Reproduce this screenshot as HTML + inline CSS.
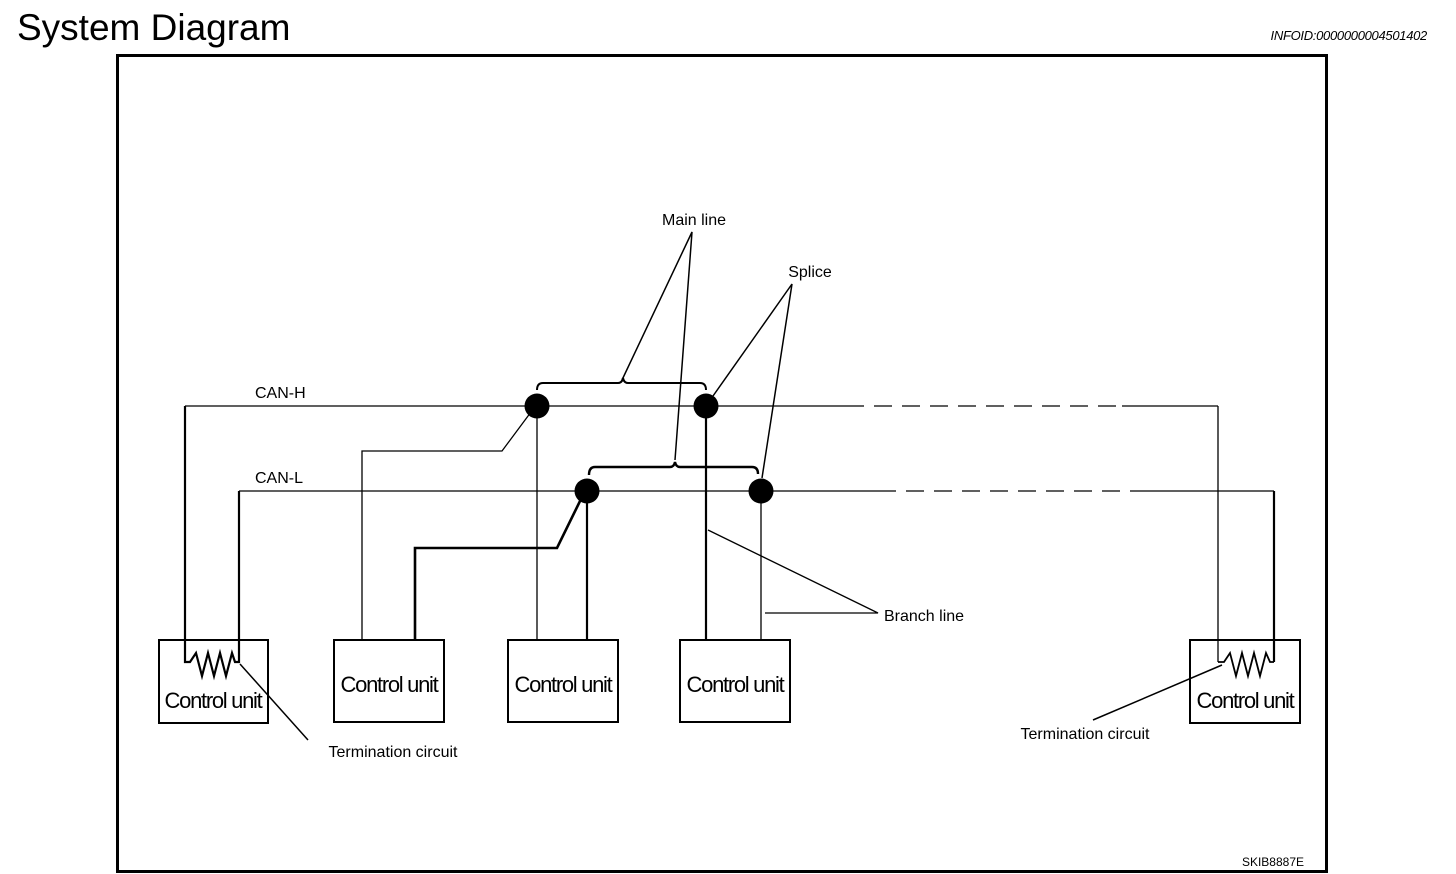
<!DOCTYPE html>
<html><head><meta charset="utf-8"><style>
html,body{margin:0;padding:0;background:#fff;}
body{width:1456px;height:874px;overflow:hidden;position:relative;font-family:"Liberation Sans",sans-serif;}
svg{position:absolute;left:0;top:0;}
</style></head><body>
<svg width="1456" height="874" viewBox="0 0 1456 874" xmlns="http://www.w3.org/2000/svg" font-family="Liberation Sans, sans-serif">
<text x="17" y="40" font-size="37" fill="#000">System Diagram</text>
<text x="1427" y="40" font-size="13" font-style="italic" text-anchor="end" fill="#000" letter-spacing="-0.3">INFOID:0000000004501402</text>
<rect x="117.5" y="55.5" width="1209" height="816" fill="none" stroke="#000" stroke-width="3"/>
<g stroke="#000" fill="none">
<line x1="185" y1="406" x2="846" y2="406" stroke-width="1.3"/>
<line x1="846" y1="406" x2="1122" y2="406" stroke-width="1.3" stroke-dasharray="18,10"/>
<line x1="1122" y1="406" x2="1218" y2="406" stroke-width="1.3"/>
<line x1="1218" y1="406" x2="1218" y2="662" stroke-width="1.3"/>
<line x1="239" y1="491" x2="878" y2="491" stroke-width="1.3"/>
<line x1="878" y1="491" x2="1130" y2="491" stroke-width="1.3" stroke-dasharray="18,10"/>
<line x1="1130" y1="491" x2="1274" y2="491" stroke-width="1.3"/>
<line x1="1274" y1="491" x2="1274" y2="662" stroke-width="2.2"/>
<polyline points="185,406 185,662 190,662 196,653 202,676 208,653 214,676 220,653 226,676 232,653 235,662 239,662 239,491" stroke-width="2.2"/>
<polyline points="1218,662 1224,662 1230,653 1236,676 1242,653 1248,676 1254,653 1260,676 1266,653 1270,662 1274,662" stroke-width="1.8"/>
<polyline points="362,640 362,451 502,451 531,412" stroke-width="1.3"/>
<polyline points="415,640 415,548 557,548 582,497" stroke-width="2.6"/>
<line x1="537" y1="406" x2="537" y2="640" stroke-width="1.3"/>
<line x1="587" y1="491" x2="587" y2="640" stroke-width="2.2"/>
<line x1="706" y1="406" x2="706" y2="640" stroke-width="2.2"/>
<line x1="761" y1="491" x2="761" y2="640" stroke-width="1.3"/>
<rect x="159" y="640" width="109" height="83" stroke-width="2"/>
<rect x="334" y="640" width="110" height="82" stroke-width="2"/>
<rect x="508" y="640" width="110" height="82" stroke-width="2"/>
<rect x="680" y="640" width="110" height="82" stroke-width="2"/>
<rect x="1190" y="640" width="110" height="83" stroke-width="2"/>
<path d="M537,390 Q537,383 543,383 L618,383 Q622,383 623,378 Q624,383 628,383 L700,383 Q706,383 706,390" stroke-width="2"/>
<path d="M589,475 Q589,467 595,467 L670,467 Q674,467 675,462 Q676,467 680,467 L752,467 Q758,467 758,474" stroke-width="2.4"/>
<polyline points="622,380 692,232 675,460" stroke-width="1.5"/>
<polyline points="713,396 792,284 762,478" stroke-width="1.5"/>
<polyline points="708,530 878,613 765,613" stroke-width="1.3"/>
<line x1="240" y1="664" x2="308" y2="740" stroke-width="1.5"/>
<line x1="1093" y1="720" x2="1222" y2="665" stroke-width="1.5"/>
</g>
<g fill="#000">
<circle cx="537" cy="406" r="12.5"/>
<circle cx="706" cy="406" r="12.5"/>
<circle cx="587" cy="491" r="12.5"/>
<circle cx="761" cy="491" r="12.5"/>
</g>
<g font-size="16" fill="#000">
<text x="255" y="398">CAN-H</text>
<text x="255" y="483">CAN-L</text>
<text x="694" y="225" text-anchor="middle">Main line</text>
<text x="810" y="277" text-anchor="middle">Splice</text>
<text x="884" y="621">Branch line</text>
<text x="393" y="757" text-anchor="middle">Termination circuit</text>
<text x="1085" y="739" text-anchor="middle">Termination circuit</text>
</g>
<g font-size="22" fill="#000" text-anchor="middle" letter-spacing="-1.3">
<text x="213" y="708">Control unit</text>
<text x="389" y="692">Control unit</text>
<text x="563" y="692">Control unit</text>
<text x="735" y="692">Control unit</text>
<text x="1245" y="708">Control unit</text>
</g>
<text x="1304" y="866" font-size="12" text-anchor="end" fill="#000">SKIB8887E</text>
</svg>
</body></html>
